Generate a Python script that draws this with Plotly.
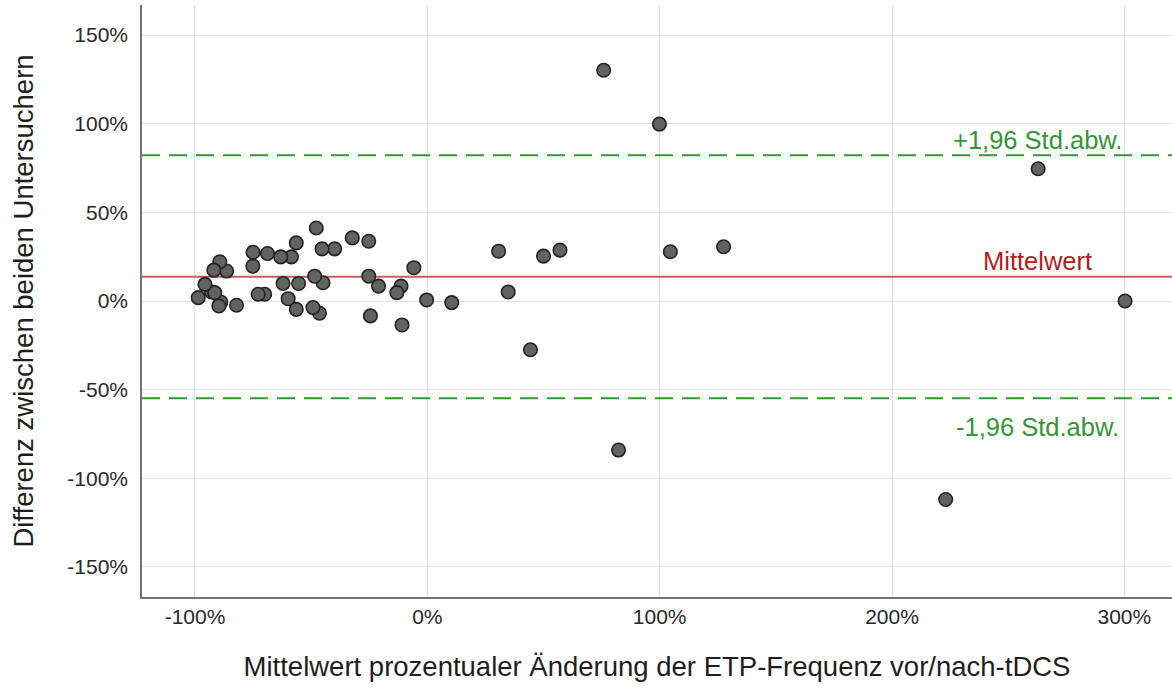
import plotly.graph_objects as go

# Mean of the two raters' percent change (x) and their difference (y), in %
mean_change = [
    75.9, 99.9, 262.9, 300.3, 223.1, 82.3, 44.4, 30.7, 34.8, 50.0,
    57.1, 104.6, 127.5, 10.5, -0.3, -5.8, -10.9, -11.3, -13.1, -21.0,
    -25.2, -25.2, -24.5, -32.3, -39.9, -45.3, -44.9, -47.8, -48.5, -46.4,
    -49.2, -56.4, -55.4, -56.4, -59.9, -58.5, -62.1, -63.1, -68.8, -70.0,
    -72.8, -75.0, -75.1, -82.1, -86.4, -89.3, -91.9, -88.9, -89.7, -92.9,
    -91.5, -95.7, -98.6,
]
difference = [
    130.2, 99.8, 74.6, 0.0, -112.0, -84.1, -27.5, 28.1, 5.1, 25.3,
    28.7, 27.8, 30.6, -0.9, 0.6, 18.8, -13.5, 8.4, 4.7, 8.4,
    14.0, 33.7, -8.4, 35.6, 29.4, 29.4, 10.3, 41.2, 14.0, -6.9,
    -3.7, 32.8, 9.9, -4.7, 1.3, 24.9, 9.9, 24.9, 26.8, 3.8,
    3.8, 27.5, 19.7, -2.4, 16.9, 22.1, 17.4, -0.6, -2.8, 5.1,
    4.7, 9.4, 1.9,
]

mean_diff = 13.7
sd_diff = 35.0
upper_loa = mean_diff + 1.96 * sd_diff
lower_loa = mean_diff - 1.96 * sd_diff

x_ticks = [-100, 0, 100, 200, 300]
y_ticks = [-150, -100, -50, 0, 50, 100, 150]
x_range = [-122.8, 320.5]
y_range = [-167, 167]

green = "rgb(52,150,52)"
red_line = "rgb(205,90,90)"
red_text = "rgb(178,30,30)"
font_family = "Liberation Sans, Arial, sans-serif"

fig = go.Figure()

# Reference lines: mean difference and limits of agreement
fig.add_trace(go.Scatter(
    x=x_range, y=[mean_diff, mean_diff], mode="lines",
    line=dict(color=red_line, width=2), hoverinfo="skip", showlegend=False,
))
for level in (upper_loa, lower_loa):
    fig.add_trace(go.Scatter(
        x=x_range, y=[level, level], mode="lines",
        line=dict(color=green, width=2, dash="18px,9px"),
        hoverinfo="skip", showlegend=False,
    ))

fig.add_trace(go.Scatter(
    x=mean_change, y=difference, mode="markers",
    marker=dict(size=13.5, color="rgb(98,98,98)",
                line=dict(color="rgb(35,35,35)", width=1.6)),
    showlegend=False,
))

label_x = 262.5
label_font = 25.5
fig.add_annotation(x=label_x, y=upper_loa, text="+1,96 Std.abw.", showarrow=False,
                   yshift=15, font=dict(color=green, size=label_font, family=font_family))
fig.add_annotation(x=label_x, y=mean_diff, text="Mittelwert", showarrow=False,
                   yshift=16, font=dict(color=red_text, size=label_font, family=font_family))
fig.add_annotation(x=label_x, y=lower_loa, text="-1,96 Std.abw.", showarrow=False,
                   yshift=-29, font=dict(color=green, size=label_font, family=font_family))

axis_common = dict(
    showgrid=True, gridcolor="rgb(225,225,225)", gridwidth=1,
    showline=True, linecolor="rgb(115,115,115)", linewidth=1.5,
    zeroline=False, ticks="",
    tickfont=dict(size=21, color="rgb(40,40,40)", family=font_family),
)

fig.update_xaxes(
    range=x_range, tickvals=x_ticks, ticktext=[f"{v}%" for v in x_ticks],
    ticklabelstandoff=0,
    title=dict(text="Mittelwert prozentualer Änderung der ETP-Frequenz vor/nach-tDCS",
               font=dict(size=27.5, color="rgb(30,30,30)", family=font_family), standoff=30),
    **axis_common,
)
fig.update_yaxes(
    range=y_range, tickvals=y_ticks, ticktext=[f"{v}%" for v in y_ticks],
    ticklabelstandoff=8,
    title=dict(text="Differenz zwischen beiden Untersuchern",
               font=dict(size=27.5, color="rgb(30,30,30)", family=font_family), standoff=26),
    **axis_common,
)

fig.update_layout(
    width=1172, height=690,
    margin=dict(l=142, r=0, t=5, b=93),
    plot_bgcolor="white", paper_bgcolor="white",
    font=dict(family=font_family),
)

fig.write_html("out.html")
